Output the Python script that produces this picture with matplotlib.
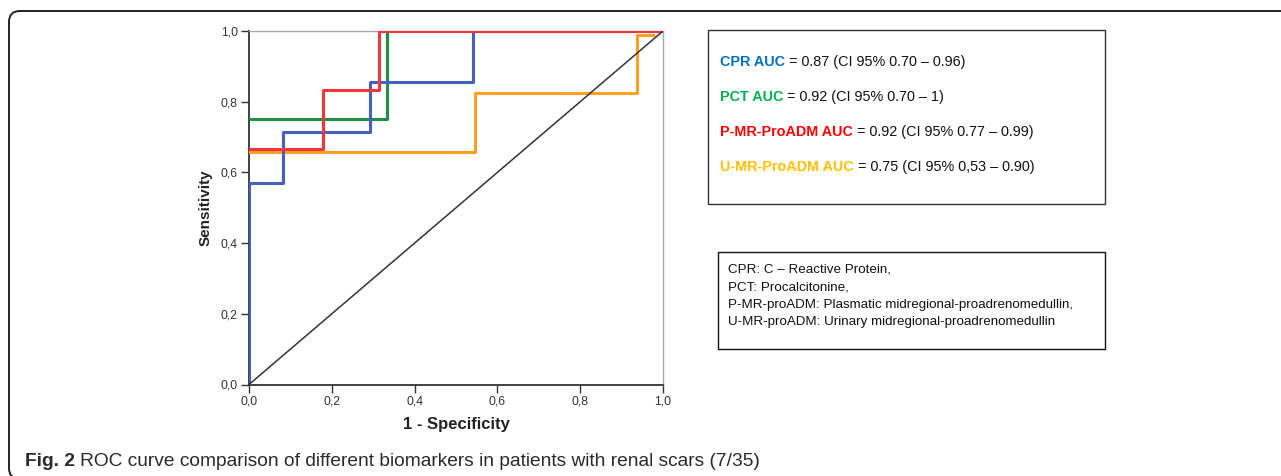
import matplotlib
matplotlib.use("Agg")
import matplotlib.pyplot as plt
from matplotlib.patches import FancyBboxPatch, Rectangle

# ROC curves (1 - specificity, sensitivity)
cpr_x = [0.0, 0.0, 0.083, 0.083, 0.292, 0.292, 0.542, 0.542, 1.0]
cpr_y = [0.0, 0.571, 0.571, 0.714, 0.714, 0.857, 0.857, 1.0, 1.0]
pct_x = [0.0, 0.334, 0.334, 1.0]
pct_y = [0.75, 0.75, 1.0, 1.0]
pmr_x = [0.0, 0.178, 0.178, 0.315, 0.315, 1.0]
pmr_y = [0.667, 0.667, 0.833, 0.833, 1.0, 1.0]
umr_x = [0.0, 0.546, 0.546, 0.937, 0.937, 0.975]
umr_y = [0.658, 0.658, 0.824, 0.824, 0.99, 0.99]

ticks = [0.0, 0.2, 0.4, 0.6, 0.8, 1.0]
tick_labels = ["0,0", "0,2", "0,4", "0,6", "0,8", "1,0"]

auc_labels = ["CPR AUC", "PCT AUC", "P-MR-ProADM AUC", "U-MR-ProADM AUC"]
auc_values = [" = 0.87 (CI 95% 0.70 \u2013 0.96)", " = 0.92 (CI 95% 0.70 \u2013 1)",
              " = 0.92 (CI 95% 0.77 \u2013 0.99)", " = 0.75 (CI 95% 0,53 \u2013 0.90)"]
auc_colors = ["#0070c0", "#00b050", "#ff0000", "#ffc000"]

abbrev = [
    "CPR: C \u2013 Reactive Protein,",
    "PCT: Procalcitonine,",
    "P-MR-proADM: Plasmatic midregional-proadrenomedullin,",
    "U-MR-proADM: Urinary midregional-proadrenomedullin",
]

W, H = 1281, 476
plt.rcParams["font.family"] = ["Liberation Sans", "DejaVu Sans"]
fig = plt.figure(figsize=(W / 100, H / 100), dpi=100)


def px(x, y):
    # пиксели от верхнего левого угла -> доли фигуры
    return x / W, 1 - y / H


# outer rounded frame, open to the right and bottom
frame = FancyBboxPatch(px(9, 479), 1500 / W, (479 - 11) / H,
                       boxstyle="round,pad=0,rounding_size=0.0085",
                       transform=fig.transFigure, fill=False,
                       edgecolor="#222222", linewidth=1.4, mutation_aspect=W / H)
fig.patches.append(frame)

left, right, top, bottom = 249, 663, 31, 384.5
ax = fig.add_axes([left / W, 1 - bottom / H, (right - left) / W, (bottom - top) / H])

ax.plot(umr_x, umr_y, color="#ffa024", lw=2.2, zorder=3)
ax.plot(pct_x, pct_y, color="#1f8f45", lw=2.2, zorder=4)
ax.plot(cpr_x, cpr_y, color="#4461c2", lw=2.2, zorder=5)
ax.plot(pmr_x, pmr_y, color="#f2363e", lw=2.2, zorder=6)
ax.plot([0, 1], [0, 1], color="#333333", lw=1.1, zorder=7)

ax.set_xlim(0, 1)
ax.set_ylim(0, 1)
ax.set_xticks(ticks, tick_labels)
ax.set_yticks(ticks, tick_labels)
ax.tick_params(direction="out", length=6, width=1, color="#333333",
               labelsize=8.8, labelcolor="#333333", pad=2)
for side in ("left", "bottom"):
    ax.spines[side].set_color("#333333")
    ax.spines[side].set_linewidth(1.3)
for side in ("top", "right"):
    ax.spines[side].set_color("#aaaaaa")
    ax.spines[side].set_linewidth(1.0)
ax.set_xlabel("1 - Specificity", fontsize=12, fontweight="bold", color="#222222", labelpad=7)
ax.set_ylabel("Sensitivity", fontsize=11, fontweight="bold", color="#222222", labelpad=6)

# AUC box
fig.patches.append(Rectangle(px(708, 204), (1105 - 708) / W, (204 - 30) / H,
                             transform=fig.transFigure, fill=False,
                             edgecolor="#333333", linewidth=1.0))
rows = [62, 97, 132, 167]
for label, value, color, yy in zip(auc_labels, auc_values, auc_colors, rows):
    t = fig.text(*px(720, yy), label, color=color, fontsize=10.4, fontweight="bold",
                 va="center", ha="left")
    fig.canvas.draw()
    bb = t.get_window_extent()
    fig.text(bb.x1 / W, 1 - yy / H, value, color="#111111", fontsize=10.4,
             va="center", ha="left")

# abbreviations box
fig.patches.append(Rectangle(px(718, 349), (1105 - 718) / W, (349 - 252) / H,
                             transform=fig.transFigure, fill=False,
                             edgecolor="#111111", linewidth=1.0))
for line, yy in zip(abbrev, [270, 287.5, 305, 322.5]):
    fig.text(*px(728, yy), line, color="#111111", fontsize=9.6, va="center", ha="left")

# caption
cap = fig.text(*px(25, 461), "Fig. 2", fontsize=13.8, fontweight="bold", color="#2a2a2a",
               va="center", ha="left")
fig.canvas.draw()
bb = cap.get_window_extent()
fig.text((bb.x1 + 5) / W, 1 - 461 / H,
         "ROC curve comparison of different biomarkers in patients with renal scars (7/35)",
         fontsize=13.8, color="#2a2a2a", va="center", ha="left")

fig.savefig("out.png", dpi=100)
